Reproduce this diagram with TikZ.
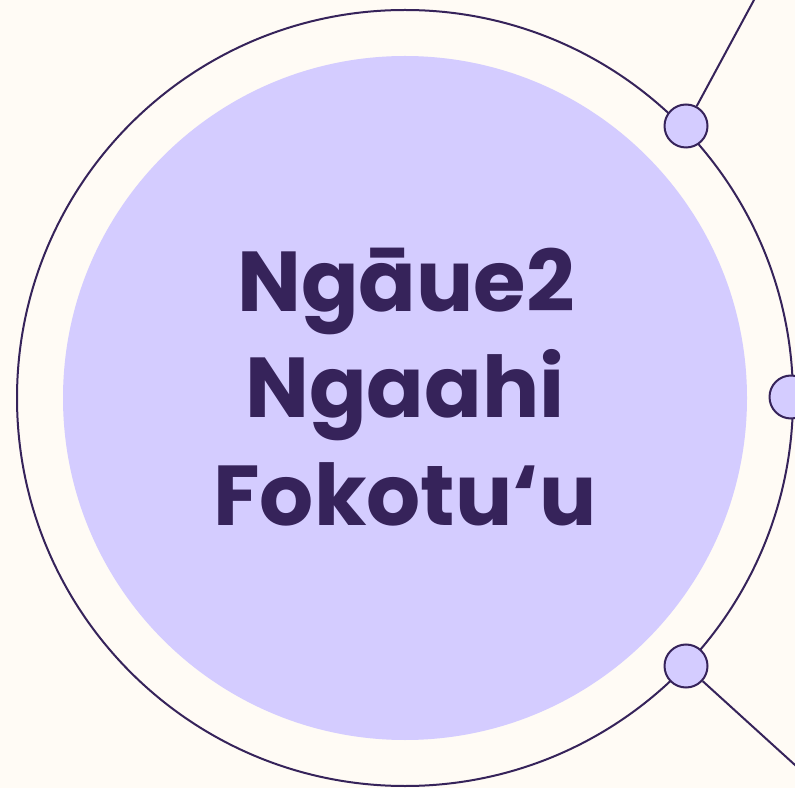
\documentclass[tikz,border=0pt]{standalone}
\usepackage{fontspec}
\setmainfont{Poppins}[BoldFont={Poppins Bold}]
\definecolor{bgcream}{HTML}{FFFBF5}
\definecolor{lav}{HTML}{D4CCFF}
\definecolor{deep}{HTML}{36235A}
\tikzset{
  ringline/.style={draw=deep, line width=2pt},
  dotnode/.style={circle, draw=deep, line width=2pt, fill=lav, minimum size=43pt, inner sep=0pt},
  titletext/.style={text=deep, font=\bfseries\fontsize{85}{90}\selectfont, anchor=base, inner sep=0pt},
}
\begin{document}
\begin{tikzpicture}[x=1pt,y=1pt]
\useasboundingbox (0,0) rectangle (795,788);
\fill[bgcream] (0,0) rectangle (795,788);
\clip (0,0) rectangle (795,788);
\fill[lav] (405,390) circle (342);
\draw[ringline] (405,390) circle (388);
\coordinate (endA) at (761,801);
\coordinate (endB) at (806,13);
\node[dotnode] (dotA) at (686,662) {};
\node[dotnode] (dotB) at (791,391) {};
\node[dotnode] (dotC) at (686,122) {};
\draw[ringline] (dotA) -- (endA);
\draw[ringline] (dotC) -- (endB);
\node[titletext] (l1) at (406,476) {Ngāue2};
\node[titletext] (l2) at (405,370) {Ngaahi};
\node[titletext] (l3) at (405,263) {Fokotu‘u};
\end{tikzpicture}
\end{document}
